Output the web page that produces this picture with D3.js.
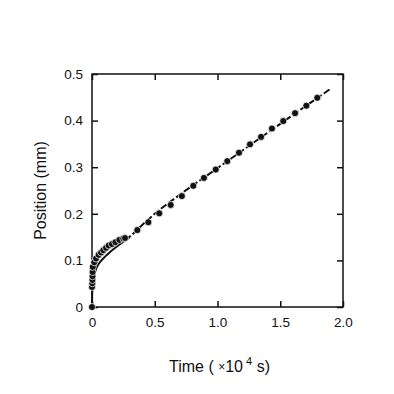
<!DOCTYPE html>
<html lang="en">
<head>
  <meta charset="UTF-8">
  <title>Position vs Time</title>
  <style>
    body { margin: 0; background: #fff; }
    svg { display: block; font-family: "Liberation Sans", Arial, sans-serif; }
    .tick text { font-size: 13.5px; fill: #111; }
  </style>
</head>
<body>
  <svg width="394" height="394"></svg>
  <script src="https://d3js.org/d3.v7.min.js"></script>
  <script>
    // measured points (time in 1e4 s, position in mm)
    const obsTime = [0, 0, 0.002, 0.003, 0.004, 0.005, 0.006, 0.018, 0.032, 0.053, 0.072, 0.09,
      0.112, 0.133, 0.159, 0.186, 0.218, 0.249, 0.263, 0.361, 0.449, 0.536, 0.627, 0.716,
      0.807, 0.892, 0.986, 1.078, 1.171, 1.259, 1.347, 1.434, 1.524, 1.618, 1.708, 1.795];
    const obsPos = [0, 0.043, 0.051, 0.058, 0.066, 0.075, 0.086, 0.096, 0.104, 0.112, 0.117, 0.122,
      0.127, 0.132, 0.135, 0.139, 0.144, 0.147, 0.148, 0.165, 0.182, 0.201, 0.219, 0.238,
      0.26, 0.277, 0.295, 0.313, 0.331, 0.349, 0.365, 0.383, 0.399, 0.416, 0.432, 0.449];

    // early-time model (solid)
    const solidTime = [0, 0.001, 0.004, 0.01, 0.02, 0.032, 0.05, 0.072, 0.1, 0.14, 0.18, 0.22, 0.26, 0.3];
    const solidPos = [0, 0.022, 0.041, 0.056, 0.07, 0.081, 0.091, 0.099, 0.107, 0.117, 0.126, 0.134, 0.142, 0.15];

    // late-time model (dashed)
    const dashTime = [0.2, 0.3, 0.4, 0.5, 0.7, 1.0, 1.5, 1.905];
    const dashPos = [0.133, 0.151, 0.176, 0.2, 0.241, 0.298, 0.393, 0.469];

    const xTicks = [0, 0.5, 1.0, 1.5, 2.0];
    const yTicks = [0, 0.1, 0.2, 0.3, 0.4, 0.5];

    const margin = { top: 74, right: 51, bottom: 87, left: 92 };
    const width = 394 - margin.left - margin.right;
    const height = 394 - margin.top - margin.bottom;

    const svg = d3.select("svg");
    const g = svg.append("g").attr("transform", `translate(${margin.left},${margin.top})`);

    const x = d3.scaleLinear().domain([0, 2]).range([0, width]);
    const y = d3.scaleLinear().domain([0, 0.5]).range([height, 0]);

    const fmt = d => d === 0 ? "0" : d3.format(".1f")(d);

    // bottom and left carry labels, top and right ticks only; all ticks point inward
    g.append("g").attr("transform", `translate(0,${height})`)
      .call(d3.axisBottom(x).tickValues(xTicks).tickFormat(fmt).tickSizeInner(-6).tickSizeOuter(0).tickPadding(10));
    g.append("g")
      .call(d3.axisLeft(y).tickValues(yTicks).tickFormat(fmt).tickSizeInner(-6).tickSizeOuter(0).tickPadding(9));
    g.append("g")
      .call(d3.axisTop(x).tickValues(xTicks).tickFormat("").tickSizeInner(-6).tickSizeOuter(0));
    g.append("g").attr("transform", `translate(${width},0)`)
      .call(d3.axisRight(y).tickValues(yTicks).tickFormat("").tickSizeInner(-6).tickSizeOuter(0));

    g.selectAll(".domain").remove();
    g.selectAll(".tick line").attr("stroke", "#111").attr("stroke-width", 1.5);
    g.append("rect")
      .attr("width", width).attr("height", height)
      .attr("fill", "none").attr("stroke", "#111").attr("stroke-width", 1.5);

    const line = d3.line().curve(d3.curveMonotoneX).x(d => x(d[0])).y(d => y(d[1]));

    g.append("path")
      .datum(solidTime.map((t, i) => [t, solidPos[i]]))
      .attr("d", line).attr("fill", "none").attr("stroke", "#111").attr("stroke-width", 2);

    g.append("path")
      .datum(dashTime.map((t, i) => [t, dashPos[i]]))
      .attr("d", line).attr("fill", "none").attr("stroke", "#111").attr("stroke-width", 2)
      .attr("stroke-dasharray", "7,2.5");

    g.selectAll("circle.obs")
      .data(obsTime.map((t, i) => [t, obsPos[i]]))
      .enter().append("circle")
      .attr("class", "obs")
      .attr("cx", d => x(d[0])).attr("cy", d => y(d[1]))
      .attr("r", 3.5)
      .attr("fill", "#111").attr("stroke", "#fff").attr("stroke-width", 0.7);

    // axis titles
    svg.append("text")
      .attr("transform", `translate(46,${margin.top + height / 2}) rotate(-90)`)
      .attr("text-anchor", "middle")
      .attr("font-size", 16).attr("fill", "#111")
      .text("Position (mm)");

    const xt = svg.append("text")
      .attr("x", margin.left + width / 2 + 2).attr("y", 372)
      .attr("text-anchor", "middle")
      .attr("font-size", 16).attr("fill", "#111");
    xt.append("tspan").text("Time ( ");
    xt.append("tspan").attr("font-size", 12).attr("dy", -1).text("×");
    xt.append("tspan").attr("dy", 1).text("10");
    xt.append("tspan").attr("font-size", 11).attr("dy", -7).text(" 4");
    xt.append("tspan").attr("dy", 7).text(" s)");
  </script>
</body>
</html>
